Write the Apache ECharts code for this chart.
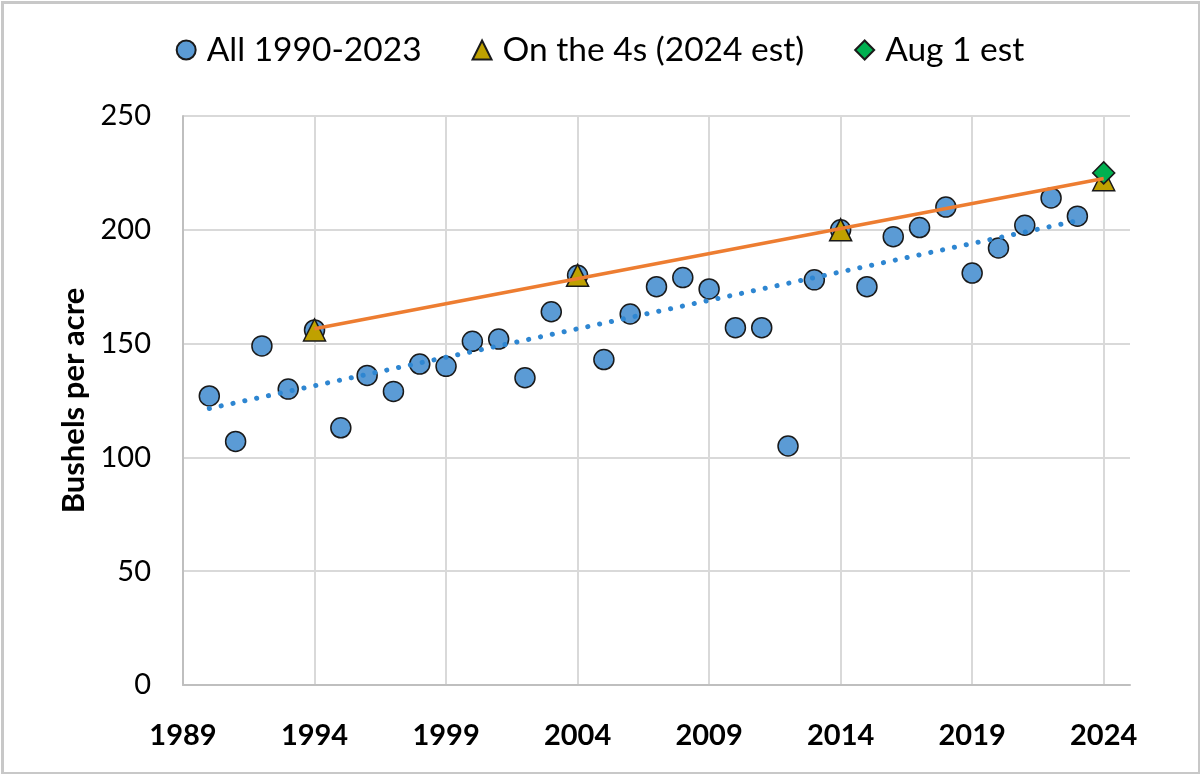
<!DOCTYPE html>
<html>
<head>
<meta charset="utf-8">
<script src="https://cdn.jsdelivr.net/npm/echarts@6/dist/echarts.min.js"></script>
<style>html,body{margin:0;padding:0;background:#fff}#c{width:1200px;height:774px}</style>
</head>
<body>
<div id="c"></div>
<script>
var years = [1990,1991,1992,1993,1994,1995,1996,1997,1998,1999,2000,2001,2002,2003,2004,2005,2006,2007,2008,2009,2010,2011,2012,2013,2014,2015,2016,2017,2018,2019,2020,2021,2022,2023];
var yields = [127,107,149,130,156,113,136,129,141,140,151,152,135,164,180,143,163,175,179,174,157,157,105,178,200,175,197,201,210,181,192,202,214,206];
var fourYears = [1994,2004,2014,2024];
var fourYields = [156,180,200,222];
var augYears = [2024];
var augYields = [225];
var trendAllX = [1990,2023];
var trendAllY = [121.5,204];
var trendFourX = [1994,2024];
var trendFourY = [156.5,222.5];
var xTicks = [1989,1994,1999,2004,2009,2014,2019,2024];
var yTicks = [0,50,100,150,200,250];

function pairs(xs, ys){ return xs.map(function(x,i){ return [x, ys[i]]; }); }

var FONT = 'Lato';
var chart = echarts.init(document.getElementById('c'));
chart.setOption({
  animation: false,
  backgroundColor: '#fff',
  textStyle: {fontFamily: FONT},
  graphic: [{type:'rect', left:0, top:0, shape:{x:1,y:1,width:1197,height:771}, style:{fill:'none', stroke:'#c8c8c8', lineWidth:3}, silent:true}],
  legend: {
    top: 28, left: 'center', itemGap: 50, itemWidth: 19, itemHeight: 19,
    textStyle: {fontSize: 33.5, color: '#000', fontFamily: FONT, padding: [0,0,0,6]},
    data: ['All 1990-2023','On the 4s (2024 est)','Aug 1 est']
  },
  grid: {left: 183, right: 70, top: 116, bottom: 89},
  xAxis: {
    type: 'value', min: xTicks[0], max: 2025, interval: 5,
    axisLine: {show: true, lineStyle: {color: '#bfbfbf', width: 2}},
    axisTick: {show: false},
    axisLabel: {fontSize: 29, fontWeight: 'bold', color: '#000', margin: 36, showMaxLabel: false,
      formatter: function(v){ return xTicks.indexOf(v) >= 0 ? String(v) : ''; }},
    splitLine: {show: true, showMaxLine: false, lineStyle: {color: '#d9d9d9', width: 2}}
  },
  yAxis: {
    type: 'value', min: yTicks[0], max: yTicks[yTicks.length-1], interval: 50,
    name: 'Bushels per acre', nameLocation: 'middle', nameGap: 94, nameRotate: 90,
    nameTextStyle: {fontSize: 31, fontWeight: 'bold', color: '#000', fontFamily: FONT},
    axisLine: {show: true, lineStyle: {color: '#bfbfbf', width: 2}},
    axisTick: {show: false},
    axisLabel: {fontSize: 29, color: '#000', margin: 32},
    splitLine: {show: true, lineStyle: {color: '#d9d9d9', width: 2}}
  },
  series: [
    {name: 'All 1990-2023', type: 'scatter', data: pairs(years, yields), symbol: 'circle', symbolSize: 20,
     itemStyle: {color: '#5B9BD5', borderColor: '#1a1a1a', borderWidth: 1.5, opacity: 1}, z: 2},
    {name: 'On the 4s (2024 est)', type: 'scatter', data: pairs(fourYears, fourYields), symbol: 'triangle', symbolSize: 22,
     itemStyle: {color: '#BFA100', borderColor: '#1a1a1a', borderWidth: 1.5, opacity: 1}, z: 3},
    {name: 'Aug 1 est', type: 'scatter', data: pairs(augYears, augYields), symbol: 'diamond', symbolSize: 22,
     itemStyle: {color: '#00B050', borderColor: '#1a1a1a', borderWidth: 1.5, opacity: 1}, z: 4},
    {name: 'trendAll', type: 'line', data: pairs(trendAllX, trendAllY), showSymbol: false, symbol: 'none',
     lineStyle: {color: '#2E86D1', width: 5, type: [0.1, 12], cap: 'round'}, z: 5, silent: true},
    {name: 'trendFour', type: 'line', data: pairs(trendFourX, trendFourY), showSymbol: false, symbol: 'none',
     lineStyle: {color: '#ED7D31', width: 3.5}, z: 6, silent: true}
  ]
});
</script>
</body>
</html>
